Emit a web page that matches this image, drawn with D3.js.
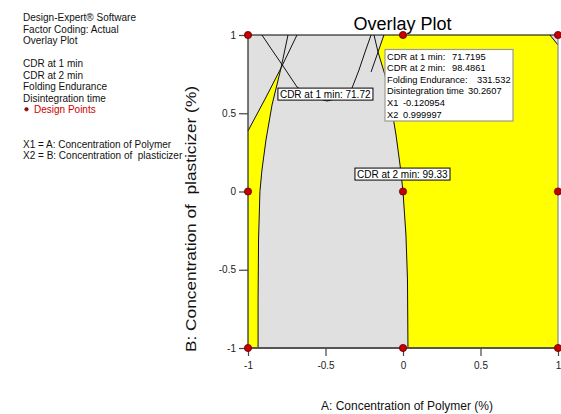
<!DOCTYPE html>
<html>
<head>
<meta charset="utf-8">
<script src="https://cdn.jsdelivr.net/npm/d3@7"></script>
<style>
  body { margin: 0; background: #fff; }
  svg { display: block; }
  text { font-family: "Liberation Sans", Arial, sans-serif; }
</style>
</head>
<body>
<svg id="chart" width="561" height="414"></svg>
<script>
// Axis ticks (coded factor levels)
const xTicks = [-1, -0.5, 0, 0.5, 1];
const yTicks = [-1, -0.5, 0, 0.5, 1];

// Design points of the 3x3 factorial
const designPoints = [[-1,-1],[0,-1],[1,-1],[-1,0],[0,0],[1,0],[-1,1],[0,1],[1,1]];

// Contour boundaries (X1, X2)
const leftBoundary = [[-0.742,1.0],[-0.787,0.789],[-0.845,0.553],[-0.884,0.329],[-0.910,0.137],
                      [-0.923,0.0],[-0.932,-0.310],[-0.935,-0.693],[-0.935,-1.0]];
const leftUpperBoundary = [[-0.684,1.0],[-0.787,0.789],[-0.890,0.591],[-1.0,0.387]];
const cdr1Contour = [[-0.910,1.0],[-0.845,0.904],[-0.774,0.802],[-0.684,0.668],[-0.600,0.610],
                     [-0.490,0.578],[-0.387,0.604],[-0.329,0.661],[-0.284,0.776],[-0.245,0.891],[-0.206,1.0]];
const rightBoundary = [[-0.187,1.0],[-0.161,0.891],[-0.116,0.744],[-0.077,0.553],[-0.045,0.361],
                       [-0.019,0.169],[0,0],[0.019,-0.278],[0.029,-0.565],[0.032,-1.0]];
const rightUpperBoundary = [[-0.123,1.0],[-0.161,0.891],[-0.206,0.764]];
const cornerBoundary = [[0.948,1.0],[1.0,0.936]];

// Contour labels
const contourLabels = [
  { text: "CDR at 1 min: 71.72", at: [-0.794, 0.60] },
  { text: "CDR at 2 min: 99.33", at: [-0.297, 0.089] }
];

// Point readout
const readoutLabels = ["CDR at 1 min:", "CDR at 2 min:", "Folding Endurance:", "Disintegration time", "X1", "X2"];
const readoutValues = ["71.7195", "98.4861", "331.532", "30.2607", "-0.120954", "0.999997"];

// Side notes
const headerLines = ["Design-Expert\u00AE Software", "Factor Coding: Actual", "Overlay Plot"];
const responseLines = ["CDR at 1 min", "CDR at 2 min", "Folding Endurance", "Disintegration time"];
const factorLines = ["X1 = A: Concentration of Polymer", "X2 = B: Concentration of  plasticizer"];

const svg = d3.select("#chart");
const x = d3.scaleLinear().domain([-1, 1]).range([248, 558]);
const y = d3.scaleLinear().domain([-1, 1]).range([348, 35]);
const line = d3.line().x(d => x(d[0])).y(d => y(d[1]));

// plot background (region outside the constraints)
svg.append("rect")
  .attr("x", x(-1)).attr("y", y(1))
  .attr("width", x(1) - x(-1)).attr("height", y(-1) - y(1))
  .attr("fill", "#e0e0e0");

// feasible regions
const leftRegion = [[-1,-1],[-1,0.387],[-0.890,0.591]].concat(leftBoundary.slice(1));
const rightRegion = [[-0.123,1.0]].concat(rightBoundary.slice(1), [[1,-1],[1,0.936],[0.948,1.0]]);
svg.selectAll("path.region")
  .data([leftRegion, rightRegion])
  .join("path")
  .attr("class", "region")
  .attr("d", d => line(d) + "Z")
  .attr("fill", "#ffff00");

// contour lines
svg.selectAll("path.contour")
  .data([leftBoundary, leftUpperBoundary, cdr1Contour, rightBoundary, rightUpperBoundary, cornerBoundary])
  .join("path")
  .attr("class", "contour")
  .attr("d", d => line(d))
  .attr("fill", "none")
  .attr("stroke", "#111")
  .attr("stroke-width", 1);

// frame
svg.append("line").attr("x1", x(-1)).attr("x2", x(1)).attr("y1", y(1)).attr("y2", y(1))
  .attr("stroke", "#000").attr("stroke-width", 1);
svg.append("line").attr("x1", x(1)).attr("x2", x(1)).attr("y1", y(1)).attr("y2", y(-1))
  .attr("stroke", "#8a8a8a").attr("stroke-width", 1.2);
svg.append("line").attr("x1", x(-1)).attr("x2", x(-1)).attr("y1", y(1)).attr("y2", y(-1))
  .attr("stroke", "#222").attr("stroke-width", 1.2);
svg.append("line").attr("x1", x(-1)).attr("x2", x(1)).attr("y1", y(-1)).attr("y2", y(-1))
  .attr("stroke", "#555").attr("stroke-width", 1.8);

// axes
const xAxis = d3.axisBottom(x).tickValues(xTicks).tickSize(8).tickPadding(3).tickFormat(d => String(d));
const yAxis = d3.axisLeft(y).tickValues(yTicks).tickSize(9).tickPadding(3).tickFormat(d => String(d));
const gx = svg.append("g").attr("transform", `translate(0,${y(-1)})`).call(xAxis);
const gy = svg.append("g").attr("transform", `translate(${x(-1)},0)`).call(yAxis);
[gx, gy].forEach(g => {
  g.select(".domain").remove();
  g.selectAll(".tick line").attr("stroke", "#444").attr("stroke-width", 1.2);
  g.selectAll(".tick text").attr("fill", "#222").attr("font-size", 10)
    .attr("font-family", "'Liberation Sans', Arial, sans-serif");
});
gx.selectAll(".tick text").attr("dy", "1em");

// axis titles
svg.append("text")
  .attr("x", 407).attr("y", 410)
  .attr("text-anchor", "middle").attr("font-size", 12).attr("fill", "#111")
  .text("A: Concentration of Polymer (%)");
svg.append("text")
  .attr("transform", "translate(196,219) rotate(-90)")
  .attr("text-anchor", "middle").attr("font-size", 14.5).attr("fill", "#111")
  .style("white-space", "pre")
  .attr("textLength", 266).attr("lengthAdjust", "spacingAndGlyphs")
  .text("B: Concentration of  plasticizer (%)");

// title
svg.append("text")
  .attr("x", 402.5).attr("y", 30)
  .attr("text-anchor", "middle").attr("font-size", 18).attr("fill", "#000")
  .text("Overlay Plot");

// design points
svg.selectAll("circle.dp")
  .data(designPoints)
  .join("circle")
  .attr("class", "dp")
  .attr("cx", d => x(d[0])).attr("cy", d => y(d[1]))
  .attr("r", 3.6)
  .attr("fill", "#c80000").attr("stroke", "#5a0000").attr("stroke-width", 0.8);

// contour labels
contourLabels.forEach(l => {
  const g = svg.append("g");
  const t = g.append("text")
    .attr("x", x(l.at[0])).attr("y", y(l.at[1]))
    .attr("font-size", 10).attr("fill", "#000")
    .text(l.text);
  const b = t.node().getBBox();
  g.insert("rect", "text")
    .attr("x", b.x - 2).attr("y", b.y - 0.5)
    .attr("width", b.width + 4).attr("height", b.height + 1)
    .attr("fill", "#fff").attr("stroke", "#000").attr("stroke-width", 1);
});

// point readout box
const readout = svg.append("g");
readout.append("rect")
  .attr("x", 385).attr("y", 49.5).attr("width", 128).attr("height", 71.5)
  .attr("fill", "#fff").attr("stroke", "#9a9a9a").attr("stroke-width", 1.2);
const valueX = [452, 452, 477, 468, 403, 403];
readoutLabels.forEach((lab, i) => {
  const yy = 59.5 + i * 11.65;
  readout.append("text").attr("x", 387).attr("y", yy)
    .attr("font-size", 9.3).attr("fill", "#000").text(lab);
  readout.append("text").attr("x", valueX[i]).attr("y", yy)
    .attr("font-size", 9.3).attr("fill", "#000").text(readoutValues[i]);
});

// side notes
const notes = svg.append("g").attr("font-size", 10).attr("fill", "#111");
headerLines.forEach((s, i) => {
  notes.append("text").attr("x", 23).attr("y", 20.8 + i * 11.7).text(s);
});
responseLines.forEach((s, i) => {
  notes.append("text").attr("x", 23).attr("y", 67 + i * 11.5).text(s);
});
notes.append("circle").attr("cx", 26.5).attr("cy", 109.3).attr("r", 1.8)
  .attr("fill", "#b00000").attr("stroke", "#400").attr("stroke-width", 0.5);
notes.append("text").attr("x", 34).attr("y", 113).attr("fill", "#cc0000").text("Design Points");
factorLines.forEach((s, i) => {
  notes.append("text").attr("x", 23).attr("y", 147.5 + i * 11.7)
    .style("white-space", "pre").text(s);
});
</script>
</body>
</html>
